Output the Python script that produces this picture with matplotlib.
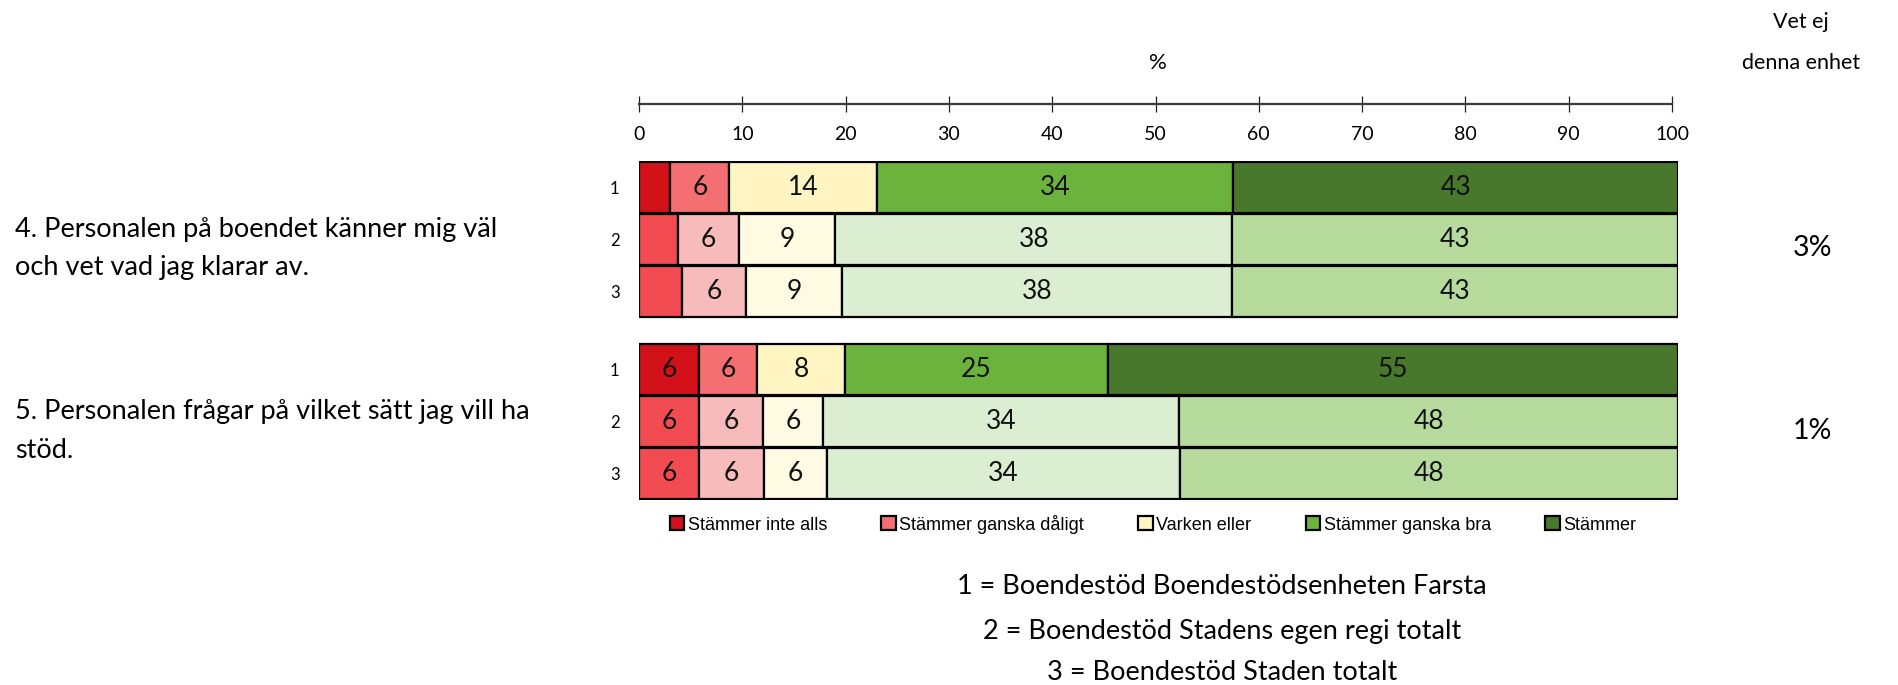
import matplotlib.pyplot as plt
import matplotlib.patches as mpatches

W, H = 1898, 685
family = 'Lato'

# data: one list per answer category, rows = unit / egen regi / staden, for question 4 then 5
categories = ['Stämmer inte alls', 'Stämmer ganska dåligt', 'Varken eller',
              'Stämmer ganska bra', 'Stämmer']
inte_alls = [3.0, 3.8, 4.1, 5.8, 5.8, 5.8]
ganska_daligt = [5.7, 5.8, 6.2, 5.6, 6.1, 6.2]
varken_eller = [14.2, 9.3, 9.2, 8.4, 5.8, 6.1]
ganska_bra = [34.3, 38.2, 37.6, 25.3, 34.3, 34.0]
stammer = [42.8, 42.9, 42.9, 54.9, 48.0, 47.9]
series = [inte_alls, ganska_daligt, varken_eller, ganska_bra, stammer]

row_labels = ['1', '2', '3', '1', '2', '3']
questions = ['4. Personalen på boendet känner mig väl\noch vet vad jag klarar av.',
             '5. Personalen frågar på vilket sätt jag vill ha\nstöd.']
vet_ej = ['3%', '1%']
units = ['1 = Boendestöd Boendestödsenheten Farsta',
         '2 = Boendestöd Stadens egen regi totalt',
         '3 = Boendestöd Staden totalt']

unit_colors = ['#D31118', '#F36F72', '#FFF5C3', '#6BB33C', '#48782B']
total_colors = ['#F24B51', '#F8BBBC', '#FFFAE2', '#DCEED2', '#B6DB9C']

y_pos = [0, 1, 2, 3.5, 4.5, 5.5]

fig = plt.figure(figsize=(W / 100, H / 100), dpi=100)

# bars
ax = fig.add_axes([639 / W, 1 - 500 / H, (1678 - 639) / W, 339 / H])
left = [0] * len(y_pos)
for j, vals in enumerate(series):
    colors = [unit_colors[j] if r == '1' else total_colors[j] for r in row_labels]
    bars = ax.barh(y_pos, vals, left=left, height=0.98, color=colors,
                   edgecolor='black', linewidth=1.6)
    ax.bar_label(bars, labels=[f'{v:.0f}' if v >= 5 else '' for v in vals],
                 label_type='center', fontsize=19, family=family, color='#111111')
    left = [l + v for l, v in zip(left, vals)]

ax.set_xlim(0, 100)
ax.set_ylim(6.0, -0.5)
for s in ax.spines.values():
    s.set_visible(False)
ax.set_xticks([])
ax.set_yticks(y_pos, row_labels)
ax.tick_params(axis='y', length=0, pad=14, labelsize=12)
for t in ax.get_yticklabels():
    t.set_family(family)

# percent scale on top
tax = fig.add_axes([639 / W, 1 - 104 / H, (1672 - 639) / W, 0.0001])
tax.set_xlim(0, 100)
tax.set_xticks(range(0, 101, 10))
tax.set_yticks([])
for name, s in tax.spines.items():
    s.set_visible(name == 'bottom')
tax.spines['bottom'].set_color('#3a3a3a')
tax.spines['bottom'].set_linewidth(1.6)
tax.tick_params(axis='x', direction='inout', length=12, width=0.9, color='#222222',
                pad=10, labelsize=14)
for t in tax.get_xticklabels():
    t.set_family(family)

fig.text(1158 / W, 1 - 63 / H, '%', ha='center', va='center', fontsize=16, family=family)
fig.text(1801 / W, 1 - 22 / H, 'Vet ej', ha='center', va='center', fontsize=15.5, family=family)
fig.text(1801 / W, 1 - 63 / H, 'denna enhet', ha='center', va='center', fontsize=15.5, family=family)

for q, v, yc in zip(questions, vet_ej, [248, 431]):
    fig.text(15 / W, 1 - yc / H, q, ha='left', va='center', fontsize=19.5,
             family=family, linespacing=1.65)
    fig.text(1812 / W, 1 - yc / H, v, ha='center', va='center', fontsize=20.5, family=family)

handles = [mpatches.Patch(facecolor=c, edgecolor='black', linewidth=1.6) for c in unit_colors]
fig.legend(handles, categories, loc='center', bbox_to_anchor=(1153 / W, 1 - 524 / H),
           ncol=5, frameon=False, prop={'family': 'Liberation Sans', 'size': 13},
           handlelength=0.8, handleheight=0.8, handletextpad=0.2, columnspacing=3.0)

for txt, yc in zip(units, [587, 632, 673]):
    fig.text(1222 / W, 1 - yc / H, txt, ha='center', va='center', fontsize=19.5, family=family)

fig.savefig('out.png', dpi=100)
